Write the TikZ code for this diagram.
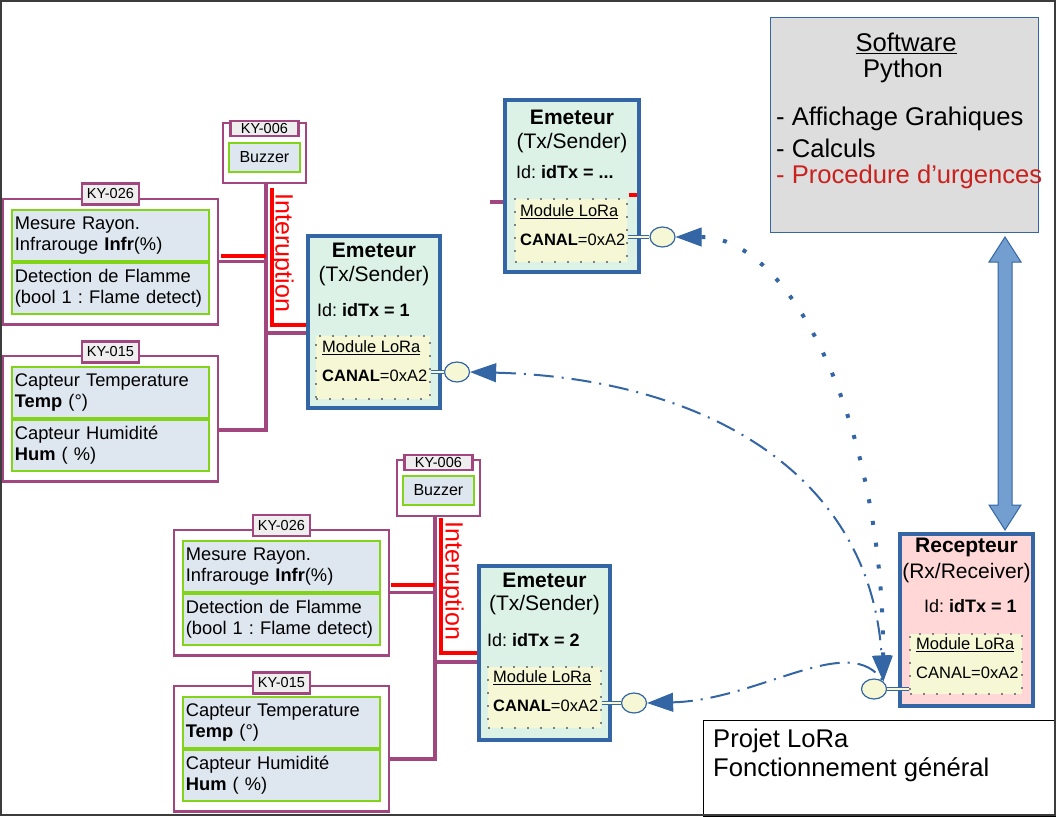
\documentclass[tikz,border=0pt]{standalone}
\usepackage{fontspec}
\setmainfont{Liberation Sans}
\usetikzlibrary{arrows.meta, positioning, shapes.geometric, fit}
\frenchspacing

\definecolor{kitpurple}{HTML}{A1467E}
\definecolor{ledgreen}{HTML}{81D41A}
\definecolor{sensfill}{HTML}{DEE6EF}
\definecolor{loblue}{HTML}{3465A4}
\definecolor{txfill}{HTML}{DCF2E6}
\definecolor{rxfill}{HTML}{FFD7D7}
\definecolor{lorafill}{HTML}{F6F8D5}
\definecolor{softfill}{HTML}{DDDDDD}
\definecolor{tabfill}{HTML}{EEEEEE}
\definecolor{alertred}{HTML}{FF0000}
\definecolor{urgred}{HTML}{C9211E}
\definecolor{arrowfill}{HTML}{729FCF}
\definecolor{framegray}{HTML}{3C3C3C}

\begin{document}
\begin{tikzpicture}[
    x=1pt, y=-1pt,
    >={Triangle[length=26pt, width=19pt, line width=1pt]},
    kit/.style={draw=kitpurple, line width=2.5pt, inner xsep=8pt, inner ysep=10pt},
    kittag/.style={draw=kitpurple, line width=2.5pt, fill=tabfill, inner sep=0pt,
        minimum width=57pt, minimum height=21pt, font=\fontsize{14.5}{16}\selectfont},
    sensor/.style={draw=ledgreen, line width=1.8pt, fill=sensfill, text width=191pt,
        inner xsep=3pt, minimum height=51pt, align=left, font=\fontsize{18.3}{21}\selectfont},
    buzz/.style={draw=ledgreen, line width=1.8pt, fill=sensfill, minimum width=71pt,
        minimum height=29pt, font=\fontsize{16}{19}\selectfont},
    wire/.style={draw=kitpurple, line width=3.2pt},
    irq/.style={draw=alertred, line width=4pt},
    irqtext/.style={text=alertred, rotate=-90, inner sep=0pt, font=\fontsize{25}{28}\selectfont},
    txbox/.style={draw=loblue, line width=4pt, fill=txfill, anchor=north west,
        minimum width=132pt, minimum height=172pt},
    ttl/.style={font=\bfseries\fontsize{21}{24}\selectfont},
    subttl/.style={font=\fontsize{21}{24}\selectfont},
    idline/.style={anchor=west, inner sep=0pt, font=\fontsize{18}{21}\selectfont},
    lora/.style={draw=gray, line width=2pt, dash pattern=on 2pt off 11pt, fill=lorafill,
        anchor=north west, minimum width=114pt, minimum height=63pt},
    loratxt/.style={anchor=west, inner sep=0pt, font=\fontsize{16.5}{19}\selectfont},
    bubble/.style={ellipse, draw=loblue, line width=1.2pt, fill=lorafill,
        minimum width=25pt, minimum height=20pt, inner sep=0pt},
    stem/.style={draw=loblue, line width=0.8pt, double=lorafill, double distance=1.5pt},
    radio/.style={draw=loblue, line width=2pt, dash pattern=on 20pt off 8pt on 2pt off 8pt},
    beacon/.style={draw=loblue, line width=4pt, dash pattern=on 4pt off 18pt},
    bigarrow/.style={draw=loblue, line width=1pt, fill=arrowfill},
    big/.style={font=\fontsize{25.6}{29}\selectfont}
]
\useasboundingbox (0,0) rectangle (1056,816);

% software block
\node[draw=loblue, line width=1pt, fill=softfill, anchor=north west,
    minimum width=268pt, minimum height=215pt] (soft) at (770,17) {};
\node[big] (softt) at (906,43) {\underline{Software}};
\node[big] (softp) at (903,71) {Python};
\node[big, anchor=west, inner sep=0pt] (softa) at (776,119) {- Affichage Grahiques};
\node[big, anchor=west, inner sep=0pt] (softc) at (776,148) {- Calculs};
\node[big, anchor=west, inner sep=0pt, text=urgred] (softu) at (776,177) {- Procedure d’urgences};

% receiver
\node[txbox, fill=rxfill, minimum width=133pt] (rx) at (898,532) {};
\node[ttl] (rxt) at ([yshift=-15pt]rx.north) {Recepteur};
\node[subttl] (rxs) at ([yshift=-41pt]rx.north) {(Rx/Receiver)};
\node[idline] (rxid) at ([xshift=26pt,yshift=-74pt]rx.north west) {Id: \textbf{idTx = 1}};
\node[lora, minimum width=112pt, minimum height=60pt] (rxl) at ([xshift=11pt,yshift=-101pt]rx.north west) {};
\node[loratxt] (rxm) at ([xshift=7pt,yshift=-12pt]rxl.north west) {\underline{Module LoRa}};
\node[loratxt] (rxc) at ([xshift=7pt,yshift=-40pt]rxl.north west) {CANAL=0xA2};
\node[bubble] (rxb) at (874,689) {};
\draw[stem] (rxl.west |- rxb) -- (rxb);

\filldraw[bigarrow] (1005,237) -- ++(16,25) -- ++(-9,0) -- (1012,505) -- ++(9,0)
    -- (1005,530) -- ++(-16,-25) -- ++(9,0) -- (998,262) -- ++(-9,0) -- cycle;

% sender without id
\node[txbox, minimum width=134pt] (txn) at (503,98) {};
\node[ttl] (txnt) at ([yshift=-19.5pt]txn.north) {Emeteur};
\node[subttl] (txns) at ([yshift=-45pt]txn.north) {(Tx/Sender)};
\node[idline] (txnid) at ([xshift=13pt,yshift=-74pt]txn.north west) {Id: \textbf{idTx = ...}};
\node[lora, minimum width=112pt] (txnl) at ([xshift=11pt,yshift=-100pt]txn.north west) {};
\node[loratxt] (txnm) at ([xshift=6pt,yshift=-14pt]txnl.north west) {\underline{Module LoRa}};
\node[loratxt] (txnc) at ([xshift=6pt,yshift=-42pt]txnl.north west) {\textbf{CANAL}=0xA2};
\node[bubble] (txnb) at (662.5,237) {};
\draw[stem] (txnl.east |- txnb) -- (txnb);
\coordinate (stubn) at (490,202);
\draw[wire] (stubn) -- (stubn -| txn.west);
\coordinate (irqn) at (629,194.5);
\draw[irq, shorten >=4pt] (irqn) -- (irqn -| txn.east);

% sender 1
\node[txbox] (tx1) at (306,234) {};
\node[ttl] (tx1t) at ([yshift=-16pt]tx1.north) {Emeteur};
\node[subttl] (tx1s) at ([yshift=-42pt]tx1.north) {(Tx/Sender)};
\node[idline] (tx1id) at ([xshift=11pt,yshift=-76pt]tx1.north west) {Id: \textbf{idTx = 1}};
\node[lora] (tx1l) at ([xshift=9pt,yshift=-101pt]tx1.north west) {};
\node[loratxt] (tx1m) at ([xshift=7pt,yshift=-13pt]tx1l.north west) {\underline{Module LoRa}};
\node[loratxt] (tx1c) at ([xshift=7pt,yshift=-41pt]tx1l.north west) {\textbf{CANAL}=0xA2};
\node[bubble] (tx1b) at (457,372) {};
\draw[stem] (tx1l.east |- tx1b) -- (tx1b);

% sender 2
\node[txbox, minimum width=131pt, minimum height=174pt] (tx2) at (477,564) {};
\node[ttl] (tx2t) at ([yshift=-16pt]tx2.north) {Emeteur};
\node[subttl] (tx2s) at ([yshift=-41pt]tx2.north) {(Tx/Sender)};
\node[idline] (tx2id) at ([xshift=10pt,yshift=-76pt]tx2.north west) {Id: \textbf{idTx = 2}};
\node[lora, minimum width=113pt, minimum height=61pt] (tx2l) at ([xshift=10pt,yshift=-102pt]tx2.north west) {};
\node[loratxt] (tx2m) at ([xshift=6pt,yshift=-12pt]tx2l.north west) {\underline{Module LoRa}};
\node[loratxt] (tx2c) at ([xshift=6pt,yshift=-40pt]tx2l.north west) {\textbf{CANAL}=0xA2};
\node[bubble] (tx2b) at (634,703) {};
\draw[stem] (tx2l.east |- tx2b) -- (tx2b);

% radio links
\draw[beacon, <->] (txnb.east) .. controls (790,237) and (883,420) .. (rxb.north east);
\draw[radio, <->] (tx1b.east) .. controls (700,378) and (870,470) .. (rxb.north east);
\draw[radio, <-] (tx2b.east) .. controls (760,700) and (850,630) .. (rxb.north east);

% first sensor group
\node[sensor, anchor=north west] (ir1) at (11,209) {Mesure Rayon.\\Infrarouge \textbf{Infr}(\%)};
\node[sensor, below=0pt of ir1] (fl1) {Detection de Flamme\\(bool 1 : Flame detect)};
\node[kit, fit=(ir1)(fl1)] (ky26a) {};
\node[kittag] (ky26at) at ([yshift=4pt]ky26a.north) {KY-026};

\node[sensor, anchor=north west] (th1) at (11,366) {Capteur Temperature\\\textbf{Temp} (°)};
\node[sensor, below=0pt of th1] (hu1) {Capteur Humidité\\\textbf{Hum} ( \%)};
\node[kit, fit=(th1)(hu1)] (ky15a) {};
\node[kittag] (ky15at) at ([yshift=3pt]ky15a.north) {KY-015};

\node[buzz, anchor=north west] (bz1) at (228,142) {Buzzer};
\coordinate (bz1top) at ([yshift=9pt]bz1.north);
\node[kit, inner xsep=5pt, fit=(bz1)(bz1top)] (ky06a) {};
\node[kittag, minimum width=68pt, minimum height=15pt] (ky06at) at ([yshift=-6.5pt]ky06a.north) {KY-006};

\coordinate (bus1) at (266,430);
\draw[wire] (bus1 |- ky06a.south) -- (bus1) -- (bus1 -| ky15a.east);
\draw[wire] (ky26a.east) -- (ky26a.east -| bus1);
\coordinate (tap1) at (266,333);
\draw[wire] (tap1) -- (tap1 -| tx1.west);
\coordinate (irq1) at (221,256);
\draw[irq] (irq1) -- (irq1 -| bus1);
\coordinate (brk1) at (271.5,188);
\draw[irq] (brk1) -- (brk1 |- 0,325) -- (tx1.west |- 0,325);
\node[irqtext] (irq1t) at (282,253) {Interuption};

% second sensor group
\node[sensor, anchor=north west] (ir2) at (182,540) {Mesure Rayon.\\Infrarouge \textbf{Infr}(\%)};
\node[sensor, below=0pt of ir2] (fl2) {Detection de Flamme\\(bool 1 : Flame detect)};
\node[kit, fit=(ir2)(fl2)] (ky26b) {};
\node[kittag] (ky26bt) at ([yshift=3.5pt]ky26b.north) {KY-026};

\node[sensor, anchor=north west] (th2) at (182,696) {Capteur Temperature\\\textbf{Temp} (°)};
\node[sensor, below=0pt of th2] (hu2) {Capteur Humidité\\\textbf{Hum} ( \%)};
\node[kit, fit=(th2)(hu2)] (ky15b) {};
\node[kittag] (ky15bt) at ([yshift=2pt]ky15b.north) {KY-015};

\node[buzz, anchor=north west] (bz2) at (402,475) {Buzzer};
\coordinate (bz2top) at ([yshift=5pt]bz2.north);
\node[kit, inner xsep=5pt, fit=(bz2)(bz2top)] (ky06b) {};
\node[kittag, minimum width=68pt, minimum height=15pt] (ky06bt) at ([yshift=-3.5pt]ky06b.north) {KY-006};

\coordinate (bus2) at (435,759);
\draw[wire] (bus2 |- ky06b.south) -- (bus2) -- (bus2 -| ky15b.east);
\draw[wire] (ky26b.east) -- (ky26b.east -| bus2);
\coordinate (tap2) at (435,662);
\draw[wire] (tap2) -- (tap2 -| tx2.west);
\coordinate (irq2) at (391,584.5);
\draw[irq] (irq2) -- (irq2 -| bus2);
\coordinate (brk2) at (440.5,518);
\draw[irq] (brk2) -- (brk2 |- 0,653) -- (tx2.west |- 0,653);
\node[irqtext] (irq2t) at (452,581) {Interuption};

% title block
\node[draw=black, line width=1pt, anchor=north west, minimum width=353pt, minimum height=96pt] (ttlbox) at (703,720) {};
\node[big, anchor=west, inner sep=0pt] (ttl1) at (713,741) {Projet LoRa};
\node[big, anchor=west, inner sep=0pt] (ttl2) at (713,770) {Fonctionnement général};

\draw[framegray, line width=2pt] (1,1) rectangle (1055,815);
\end{tikzpicture}
\end{document}
